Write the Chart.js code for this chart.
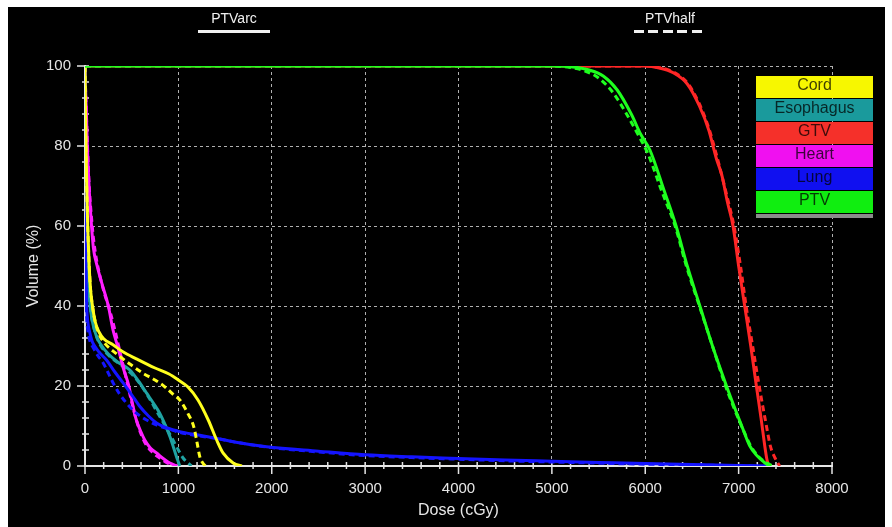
<!DOCTYPE html>
<html>
<head>
<meta charset="utf-8">
<script src="https://cdn.jsdelivr.net/npm/chart.js@4.4.1/dist/chart.umd.min.js"></script>
<style>
  html, body { margin: 0; padding: 0; background: #fff; }
  #frame { position: absolute; left: 8px; top: 7px; width: 877px; height: 520px; background: #000; }
  #chart { position: absolute; left: 0; top: 0; }
  .plan { position: absolute; top: 10px; width: 80px; color: #f0f0f0; text-align: center;
          font: 14px "Liberation Sans", Arial, sans-serif; }
  .plan .ln { height: 3px; margin: 4px auto 0; width: 72px; }
  .solid { background: #f0f0f0; }
  .dashed { background: repeating-linear-gradient(to right, #f0f0f0 0 10px, transparent 10px 14.4px); }
  #key { position: absolute; left: 756px; top: 76px; width: 117px; }
  #key div { height: 22px; line-height: 22px; margin-bottom: 1px; text-align: center;
             font: 16px "Liberation Sans", Arial, sans-serif; color: rgba(0,0,0,0.75); }
  #key .end { height: 4px; background: #8a8a8a; }
</style>
</head>
<body>
<div id="frame"></div>
<canvas id="chart" width="892" height="527"></canvas>
<div class="plan" style="left:194px">PTVarc<div class="ln solid"></div></div>
<div class="plan" style="left:630px">PTVhalf<div class="ln dashed"></div></div>
<div id="key"></div>
<script>
// structures and colours
const structures = ['Cord', 'Esophagus', 'GTV', 'Heart', 'Lung', 'PTV'];
const structColors = ['#ffff1e', '#1fa3a3', '#ff2626', '#ff1eff', '#1414ff', '#1eff1e'];
const keyColors = ['#f7f700', '#1a9a9c', '#f5302a', '#f010f0', '#1010f0', '#10ee10'];

// dose (cGy) / volume (%), PTVarc plan (solid)
const cordArcDose = [0, 4, 8, 14, 22, 32, 45, 60, 80, 110, 150, 200, 300, 410, 550, 750, 900, 1000, 1100, 1210, 1320, 1410, 1480, 1590, 1680];
const cordArcVol  = [100, 92, 84, 75, 66, 58, 50, 44, 40, 36, 33.5, 31.8, 30.3, 28.5, 26.8, 24.5, 23, 21.5, 19.8, 16.5, 11.5, 6.5, 3.2, 0.7, 0];
const esoArcDose = [0, 3, 6, 10, 15, 25, 40, 60, 90, 130, 160, 250, 350, 480, 580, 660, 730, 800, 860, 910, 950, 980, 1000, 1015];
const esoArcVol  = [100, 90, 78, 68, 60, 52, 45, 39, 35, 32, 30.7, 28, 26, 24, 21, 18.2, 15.8, 13.2, 10.2, 7.3, 4.5, 2.3, 1, 0];
const gtvArcDose = [0, 6000, 6150, 6300, 6450, 6580, 6680, 6760, 6820, 6880, 6940, 7000, 7065, 7130, 7190, 7240, 7280, 7300, 7320];
const gtvArcVol  = [100, 100, 99.5, 98.3, 95.5, 90, 84, 77, 72.7, 66, 60, 50, 40, 30, 20, 12, 5, 2, 0];
const heartArcDose = [0, 5, 15, 25, 35, 50, 70, 90, 130, 180, 250, 300, 355, 410, 470, 500, 550, 600, 640, 700, 770, 830, 890, 940, 980];
const heartArcVol  = [100, 95, 88, 80, 74, 67, 60, 54.5, 50, 45.7, 40, 34, 29.5, 24.5, 20, 16.5, 11.5, 8.5, 6.5, 4.5, 3.2, 2, 1, 0.4, 0];
const lungArcDose = [0, 2, 4, 6, 8, 12, 18, 30, 50, 72, 90, 150, 230, 320, 410, 500, 590, 680, 770, 880, 1015, 1200, 1370, 1600, 1945, 2500, 3000, 3500, 4000, 4500, 5000, 5500, 6000, 6500, 7000, 7300];
const lungArcVol  = [100, 85, 70, 60, 52, 46, 40, 36, 33.5, 31.5, 30.5, 28.5, 26.5, 23.5, 20.7, 17.8, 14.8, 12.5, 10.7, 9.5, 8.6, 7.8, 7.1, 6, 4.8, 3.7, 2.8, 2.3, 1.9, 1.5, 1.2, 0.9, 0.6, 0.35, 0.15, 0];
const ptvArcDose = [0, 5000, 5250, 5400, 5550, 5700, 5850, 5950, 6050, 6200, 6330, 6450, 6585, 6720, 6870, 6950, 7050, 7120, 7200, 7270, 7330];
const ptvArcVol  = [100, 100, 99.7, 99, 97.5, 94, 88, 83, 79, 69, 60, 50, 40, 30, 20, 15, 9, 5, 2.5, 1, 0];

// PTVhalf plan (dashed)
const cordHalfDose = [0, 4, 8, 14, 22, 32, 45, 60, 80, 110, 150, 200, 340, 480, 620, 750, 855, 950, 1015, 1100, 1165, 1195, 1230, 1260, 1290];
const cordHalfVol  = [100, 92, 84, 75, 66, 58, 50, 44, 40, 36, 33, 31, 28, 25.5, 23.2, 21.5, 19.8, 17.8, 16.5, 13.2, 9.8, 6.5, 2.3, 0.8, 0];
const esoHalfDose = [0, 3, 6, 10, 15, 25, 40, 60, 90, 130, 170, 260, 400, 520, 620, 700, 780, 860, 930, 1000, 1050, 1100, 1140];
const esoHalfVol  = [100, 90, 78, 68, 60, 52, 45, 39, 35, 32, 30, 27.5, 25, 22.5, 19.5, 16.5, 13.2, 10, 7, 4, 2, 0.8, 0];
const gtvHalfDose = [0, 6000, 6150, 6300, 6450, 6580, 6680, 6760, 6880, 6950, 7020, 7080, 7150, 7220, 7290, 7340, 7390, 7440];
const gtvHalfVol  = [100, 100, 99.6, 98.5, 95.8, 90.5, 84.5, 78, 67, 60, 50, 40, 30, 20, 11, 5, 2, 0];
const heartHalfDose = [0, 5, 15, 25, 35, 50, 70, 90, 120, 160, 210, 270, 320, 370, 420, 460, 500, 550, 600, 650, 720, 800, 880, 950, 990];
const heartHalfVol  = [100, 95, 88, 81, 75, 68, 62, 57, 52, 47.5, 43, 38.5, 34, 29, 24, 20, 16, 11.5, 8, 5.5, 3.5, 2, 0.8, 0.2, 0];
const lungHalfDose = [0, 2, 4, 6, 8, 12, 18, 30, 50, 90, 140, 196, 250, 303, 370, 446, 550, 660, 770, 875, 1000, 1200, 1400, 1700, 2000, 2500, 3000, 3500, 4000, 4500, 5000, 5500, 6000, 6500, 7000, 7200];
const lungHalfVol  = [100, 85, 68, 56, 48, 42, 37, 34, 31.5, 29.5, 27.5, 25.7, 23.2, 20.7, 18, 15.7, 13.2, 11.5, 10.2, 9.4, 8.5, 7.6, 6.9, 5.6, 4.6, 3.5, 2.6, 2.1, 1.7, 1.3, 1.0, 0.7, 0.45, 0.25, 0.1, 0];
const ptvHalfDose = [0, 5000, 5200, 5350, 5500, 5650, 5800, 5920, 6030, 6180, 6320, 6440, 6580, 6720, 6860, 6950, 7050, 7130, 7220, 7300, 7370];
const ptvHalfVol  = [100, 100, 99.6, 98.8, 97, 93.5, 88, 83, 78, 68.5, 60, 50, 40, 30, 20, 14.5, 9, 5, 2.2, 0.8, 0];

const xTickMajor = 1000, xTickMinor = 200;
const yTickMajor = 20, yTickMinor = 4;

function pts(dose, vol) {
  return dose.map((d, i) => ({ x: d, y: vol[i] }));
}

function line(label, dose, vol, color, dashed, order) {
  return {
    label: label,
    data: pts(dose, vol),
    borderColor: color,
    borderWidth: 3,
    borderDash: dashed ? [6, 4] : [],
    pointRadius: 0,
    cubicInterpolationMode: 'monotone',
    order: order
  };
}

const datasets = [
  line('PTV PTVarc', ptvArcDose, ptvArcVol, structColors[5], false, 0),
  line('PTV PTVhalf', ptvHalfDose, ptvHalfVol, structColors[5], true, 1),
  line('Cord PTVarc', cordArcDose, cordArcVol, structColors[0], false, 2),
  line('Cord PTVhalf', cordHalfDose, cordHalfVol, structColors[0], true, 3),
  line('Lung PTVarc', lungArcDose, lungArcVol, structColors[4], false, 4),
  line('Lung PTVhalf', lungHalfDose, lungHalfVol, structColors[4], true, 5),
  line('Heart PTVarc', heartArcDose, heartArcVol, structColors[3], false, 6),
  line('Heart PTVhalf', heartHalfDose, heartHalfVol, structColors[3], true, 7),
  line('Esophagus PTVarc', esoArcDose, esoArcVol, structColors[1], false, 8),
  line('Esophagus PTVhalf', esoHalfDose, esoHalfVol, structColors[1], true, 9),
  line('GTV PTVarc', gtvArcDose, gtvArcVol, structColors[2], false, 10),
  line('GTV PTVhalf', gtvHalfDose, gtvHalfVol, structColors[2], true, 11)
];

// legend boxes on the right
const key = document.getElementById('key');
structures.forEach((s, i) => {
  const d = document.createElement('div');
  d.textContent = s;
  d.style.background = keyColors[i];
  key.appendChild(d);
});
const endBar = document.createElement('div');
endBar.className = 'end';
key.appendChild(endBar);

// tick marks crossing the axis lines
const crossTicks = {
  id: 'crossTicks',
  beforeDatasetsDraw(chart) {
    const ctx = chart.ctx;
    const area = chart.chartArea;
    const xs = chart.scales.x, ys = chart.scales.y;
    ctx.save();
    ctx.strokeStyle = '#e4e4e4';
    ctx.lineWidth = 1.5;
    ctx.beginPath();
    xs.ticks.forEach(t => {
      const px = xs.getPixelForValue(t.value);
      const major = t.value % xTickMajor === 0;
      ctx.moveTo(px, area.bottom - 4);
      ctx.lineTo(px, area.bottom + (major ? 8 : 3));
    });
    ys.ticks.forEach(t => {
      const py = ys.getPixelForValue(t.value);
      const major = t.value % yTickMajor === 0;
      ctx.moveTo(area.left - (major ? 8 : 3), py);
      ctx.lineTo(area.left + 4, py);
    });
    ctx.stroke();
    ctx.restore();
  }
};

const font = { family: '"Liberation Sans", Arial, sans-serif', size: 15 };

new Chart(document.getElementById('chart'), {
  type: 'line',
  data: { datasets: datasets },
  plugins: [crossTicks],
  options: {
    responsive: false,
    animation: false,
    layout: { padding: { top: 66, right: 60, left: 0, bottom: 0 } },
    plugins: { legend: { display: false }, tooltip: { enabled: false } },
    scales: {
      x: {
        type: 'linear',
        min: 0,
        max: 8000,
        afterFit: s => { s.height = 61; },
        ticks: {
          stepSize: xTickMinor,
          autoSkip: false,
          maxRotation: 0,
          minRotation: 0,
          padding: 14,
          color: '#e6e6e6',
          font: font,
          callback: v => (v % xTickMajor === 0 ? v : '')
        },
        grid: {
          drawTicks: false,
          lineWidth: 1,
          color: c => (c.tick && c.tick.value % xTickMajor === 0 ? '#b0b0b0' : 'transparent')
        },
        border: { display: true, color: '#e6e6e6', width: 2, dash: [3, 3] },
        title: { display: true, text: 'Dose (cGy)', color: '#e6e6e6', font: { family: font.family, size: 16 }, padding: { top: 0, bottom: 7 } }
      },
      y: {
        min: 0,
        max: 100,
        afterFit: s => { s.width = 85; },
        ticks: {
          stepSize: yTickMinor,
          autoSkip: false,
          padding: 14,
          color: '#e6e6e6',
          font: font,
          callback: v => (v % yTickMajor === 0 ? v : '')
        },
        grid: {
          drawTicks: false,
          lineWidth: 1,
          color: c => (c.tick && c.tick.value % yTickMajor === 0 ? '#b0b0b0' : 'transparent')
        },
        border: { display: true, color: '#e6e6e6', width: 2, dash: [3, 3] },
        title: { display: true, text: 'Volume (%)', color: '#e6e6e6', font: { family: font.family, size: 16 }, padding: { top: 24, bottom: 0 } }
      }
    }
  }
});
</script>
</body>
</html>
